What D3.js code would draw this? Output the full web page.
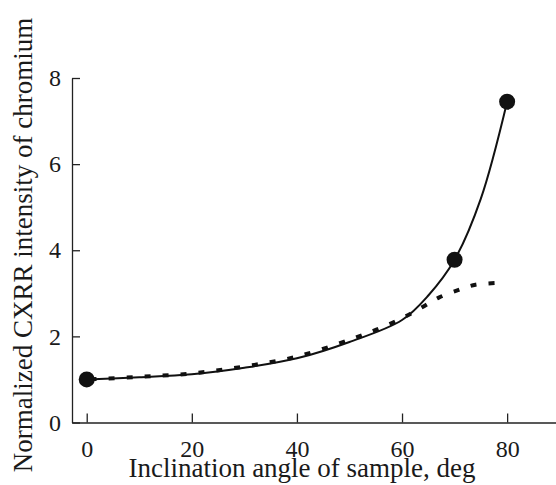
<!DOCTYPE html>
<html>
<head>
<meta charset="utf-8">
<script src="https://cdn.jsdelivr.net/npm/d3@7"></script>
<style>
  body { margin: 0; background: #fff; }
  svg text { font-family: "Liberation Serif", "Times New Roman", serif; fill: #1a1a1a; }
</style>
</head>
<body>
<div id="chart"></div>
<script>
// measured points
var angles = [0, 70, 80];
var intensity = [1.0, 3.78, 7.45];

// solid fitted curve
var fitAngles = [0, 10, 20, 30, 40, 50, 60, 65, 70, 75, 80];
var fitValues = [1.0, 1.05, 1.12, 1.27, 1.49, 1.87, 2.38, 2.95, 3.78, 5.2, 7.45];

// dotted curve
var calcAngles = [0, 10, 20, 30, 40, 50, 55, 60, 64, 67, 71, 74, 78];
var calcValues = [1.0, 1.06, 1.14, 1.30, 1.53, 1.92, 2.15, 2.42, 2.69, 2.9, 3.09, 3.2, 3.24];

var xTicks = [0, 20, 40, 60, 80];
var yTicks = [0, 2, 4, 6, 8];

var W = 556, H = 485;

var svg = d3.select("#chart").append("svg")
    .attr("width", W)
    .attr("height", H);

var x = d3.scaleLinear().domain([-2.8, 89.3]).range([72, 556]);
var y = d3.scaleLinear().domain([0, 8]).range([422.5, 78]);

var xAxis = svg.append("g")
    .attr("transform", "translate(0," + y(0) + ")")
    .call(d3.axisBottom(x).tickValues(xTicks).tickSizeInner(-9).tickSizeOuter(0).tickPadding(17));

var yAxis = svg.append("g")
    .attr("transform", "translate(" + x.range()[0] + ",0)")
    .call(d3.axisLeft(y).tickValues(yTicks).tickSizeInner(-8).tickSizeOuter(0).tickPadding(11));

[xAxis, yAxis].forEach(function (g) {
    g.selectAll("path, line").attr("stroke", "#222").attr("stroke-width", 1.3);
    g.selectAll("text").attr("font-size", 24).attr("font-family", "Liberation Serif").attr("fill", "#1a1a1a");
});

// axis titles
svg.append("text")
    .attr("x", 302)
    .attr("y", 477)
    .attr("text-anchor", "middle")
    .attr("font-size", 27)
    .text("Inclination angle of sample, deg");

svg.append("text")
    .attr("transform", "translate(32,245) rotate(-90)")
    .attr("text-anchor", "middle")
    .attr("font-size", 27)
    .text("Normalized CXRR intensity of chromium");

var line = d3.line()
    .x(function (d) { return x(d[0]); })
    .y(function (d) { return y(d[1]); })
    .curve(d3.curveCatmullRom.alpha(0.5));

svg.append("path")
    .datum(calcAngles.map(function (a, i) { return [a, calcValues[i]]; }))
    .attr("d", line)
    .attr("fill", "none")
    .attr("stroke", "#111")
    .attr("stroke-width", 4)
    .attr("stroke-dasharray", "6,12")
    .attr("stroke-dashoffset", -4);

svg.append("path")
    .datum(fitAngles.map(function (a, i) { return [a, fitValues[i]]; }))
    .attr("d", line)
    .attr("fill", "none")
    .attr("stroke", "#111")
    .attr("stroke-width", 2);

svg.selectAll("circle.pt")
    .data(angles.map(function (a, i) { return [a, intensity[i]]; }))
    .join("circle")
    .attr("class", "pt")
    .attr("cx", function (d) { return x(d[0]); })
    .attr("cy", function (d) { return y(d[1]); })
    .attr("r", 8)
    .attr("fill", "#111");
</script>
</body>
</html>
